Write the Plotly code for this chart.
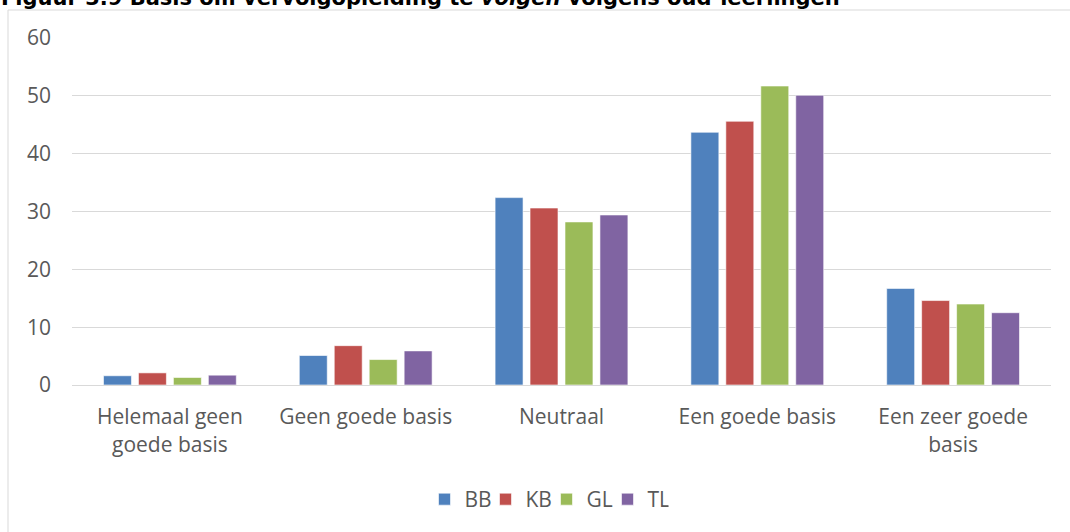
import plotly.graph_objects as go

categories = ["Helemaal geen<br>goede basis", "Geen goede basis", "Neutraal",
              "Een goede basis", "Een zeer goede<br>basis"]
bb = [1.6, 5.1, 32.4, 43.7, 16.7]
kb = [2.1, 6.8, 30.6, 45.6, 14.6]
gl = [1.3, 4.4, 28.2, 51.7, 14.0]
tl = [1.7, 5.9, 29.4, 50.1, 12.5]
y_ticks = [0, 10, 20, 30, 40, 50, 60]

series = [("BB", bb, "#4F81BD"), ("KB", kb, "#C0504D"),
          ("GL", gl, "#9BBB59"), ("TL", tl, "#8064A2")]

fig = go.Figure()
for name, vals, col in series:
    fig.add_trace(go.Bar(x=categories, y=vals, name=name, marker_color=col,
                         marker_line=dict(color="white", width=0.6)))

# plot area: x 72..1051, y 38..385
fig.update_layout(
    width=1070, height=532,
    margin=dict(l=72, r=19, t=38, b=147),
    paper_bgcolor="white", plot_bgcolor="white",
    font=dict(family="Open Sans", color="#595959", size=21),
    barmode="group", bargap=0.286, bargroupgap=0.2,
    legend=dict(orientation="h", x=0.5 - 15 / 979, xanchor="center", y=-0.33, yanchor="middle",
                font=dict(size=21), traceorder="normal", entrywidth=16),
    showlegend=True,
)
fig.update_yaxes(range=[0, 60], tickvals=y_ticks, showgrid=True, gridcolor="#D9D9D9",
                 gridwidth=1, zeroline=False, showline=False, ticks="", ticklen=0,
                 tickfont=dict(size=21), ticklabelstandoff=20, automargin=False)
fig.update_xaxes(showline=True, linecolor="#D9D9D9", linewidth=1, ticks="",
                 tickfont=dict(size=21), ticklabelstandoff=13, automargin=False)

# outer chart border (partly outside the page)
fig.add_shape(type="rect", xref="paper", yref="paper",
              x0=(8 - 72) / 979, x1=1.2, y0=(385 - 10) / 347, y1=-0.6,
              line=dict(color="#D9D9D9", width=1), layer="below")

# title, cut off at the top of the page
fig.add_annotation(xref="paper", yref="paper", x=(0 - 72) / 979, xanchor="left",
                   y=(385 - 11) / 347, yanchor="bottom", showarrow=False, borderpad=0,
                   text="<b>Figuur 3.9 Basis om vervolgopleiding te <i>volgen</i> volgens oud-leerlingen</b>",
                   font=dict(family="DejaVu Sans", size=21, color="black"))

fig.write_html("out.html", config={"displayModeBar": False},
               post_script="document.body.style.margin='0';")
